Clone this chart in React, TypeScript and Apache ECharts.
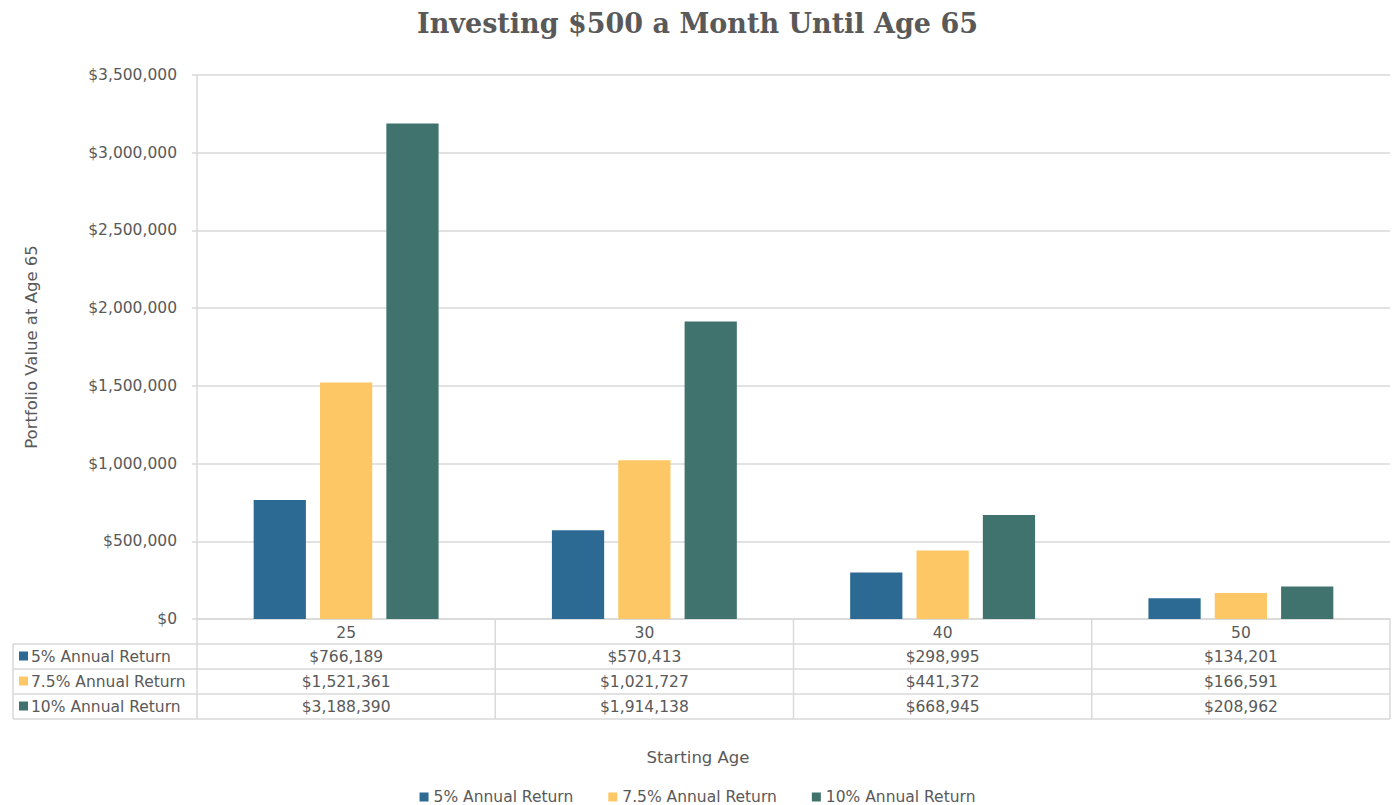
import React, { useEffect, useRef } from "react";
import * as echarts from "echarts";

const categories = ["25", "30", "40", "50"];
const seriesNames = ["5% Annual Return", "7.5% Annual Return", "10% Annual Return"];
const return5 = [766189, 570413, 298995, 134201];
const return75 = [1521361, 1021727, 441372, 166591];
const return10 = [3188390, 1914138, 668945, 208962];
const yTicks = [0, 500000, 1000000, 1500000, 2000000, 2500000, 3000000, 3500000];

const COLORS = ["#2C6A94", "#FEC766", "#40736E"];
const TEXT = "#595959";
const LINE = "#D9D9D9";
const FONT = "'DejaVu Sans', sans-serif";
const FS = 15.5;

const W = 1395;
const H = 805;
const GRID_LEFT = 197;
const GRID_RIGHT_X = 1390;
const GRID_TOP = 75;
const GRID_BOTTOM_Y = 619;
const ROW_H = 25;
const TABLE_LEFT = 13;

const fmt = (v: number) => "$" + v.toLocaleString("en-US");

export default function App() {
  const ref = useRef<HTMLDivElement>(null);
  useEffect(() => {
    document.body.style.margin = "0";
    const chart = echarts.init(ref.current!, null, { renderer: "svg" });
    const allSeries = [return5, return75, return10];
    const catW = (GRID_RIGHT_X - GRID_LEFT) / categories.length;

    const graphic: any[] = [];
    for (let r = 1; r <= 4; r++) {
      const y = GRID_BOTTOM_Y + r * ROW_H;
      graphic.push({
        type: "line",
        shape: { x1: TABLE_LEFT, y1: y, x2: GRID_RIGHT_X, y2: y },
        style: { stroke: LINE, lineWidth: 1.5 },
      });
    }
    graphic.push({
      type: "line",
      shape: { x1: TABLE_LEFT, y1: GRID_BOTTOM_Y + ROW_H, x2: TABLE_LEFT, y2: GRID_BOTTOM_Y + 4 * ROW_H },
      style: { stroke: LINE, lineWidth: 1.5 },
    });
    for (let i = 0; i <= categories.length; i++) {
      const x = GRID_LEFT + i * catW;
      graphic.push({
        type: "line",
        shape: { x1: x, y1: GRID_BOTTOM_Y, x2: x, y2: GRID_BOTTOM_Y + 4 * ROW_H },
        style: { stroke: LINE, lineWidth: 1.5 },
      });
    }
    seriesNames.forEach((name, s) => {
      const cy = GRID_BOTTOM_Y + (s + 1) * ROW_H + ROW_H / 2;
      graphic.push({
        type: "rect",
        shape: { x: 19, y: cy - 5, width: 9, height: 9 },
        style: { fill: COLORS[s] },
      });
      graphic.push({
        type: "text",
        x: 31,
        y: cy,
        style: { text: name, fill: TEXT, font: `${FS}px ${FONT}`, verticalAlign: "middle", textVerticalAlign: "middle" },
      });
      allSeries[s].forEach((v, c) => {
        graphic.push({
          type: "text",
          x: GRID_LEFT + (c + 0.5) * catW,
          y: cy,
          style: {
            text: fmt(v),
            fill: TEXT,
            font: `${FS}px ${FONT}`,
            align: "center",
            textAlign: "center",
            verticalAlign: "middle",
            textVerticalAlign: "middle",
          },
        });
      });
    });
    graphic.push({
      type: "text",
      x: 698,
      y: 757,
      style: {
        text: "Starting Age",
        fill: TEXT,
        font: `16.5px ${FONT}`,
        align: "center",
        textAlign: "center",
        verticalAlign: "middle",
        textVerticalAlign: "middle",
      },
    });

    chart.setOption({
      animation: false,
      backgroundColor: "#ffffff",
      title: {
        text: "Investing $500 a Month Until Age 65",
        left: "center",
        top: 5,
        textStyle: { fontFamily: "'DejaVu Serif', serif", fontWeight: "bold", fontSize: 27, color: TEXT },
      },
      legend: {
        bottom: -5,
        left: "center",
        icon: "rect",
        itemWidth: 9,
        itemHeight: 9,
        itemGap: 35,
        data: seriesNames,
        textStyle: { fontFamily: FONT, fontSize: FS, color: TEXT },
      },
      grid: { left: GRID_LEFT, right: W - GRID_RIGHT_X, top: GRID_TOP, bottom: H - GRID_BOTTOM_Y, containLabel: false },
      xAxis: {
        type: "category",
        data: categories,
        axisLine: { show: true, lineStyle: { color: LINE, width: 1.5 } },
        axisTick: { show: false },
        axisLabel: { fontFamily: FONT, fontSize: FS, color: TEXT, margin: 6 },
      },
      yAxis: {
        type: "value",
        min: yTicks[0],
        max: yTicks[yTicks.length - 1],
        interval: yTicks[1] - yTicks[0],
        name: "Portfolio Value at Age 65",
        nameLocation: "middle",
        nameGap: 157,
        nameTextStyle: { fontFamily: FONT, fontSize: 16.5, color: TEXT },
        axisLine: { show: true, lineStyle: { color: LINE, width: 1.5 } },
        axisTick: { show: true, length: 5, lineStyle: { color: LINE, width: 1.5 } },
        axisLabel: { fontFamily: FONT, fontSize: FS, color: TEXT, margin: 20, formatter: (v: number) => fmt(v) },
        splitLine: { show: true, lineStyle: { color: LINE, width: 1.5 } },
      },
      series: seriesNames.map((name, s) => ({
        name,
        type: "bar",
        data: allSeries[s],
        barGap: "27%",
        barCategoryGap: "38%",
        itemStyle: { color: COLORS[s] },
      })),
      graphic,
    });
    return () => chart.dispose();
  }, []);
  return <div ref={ref} style={{ width: W, height: H }} />;
}
